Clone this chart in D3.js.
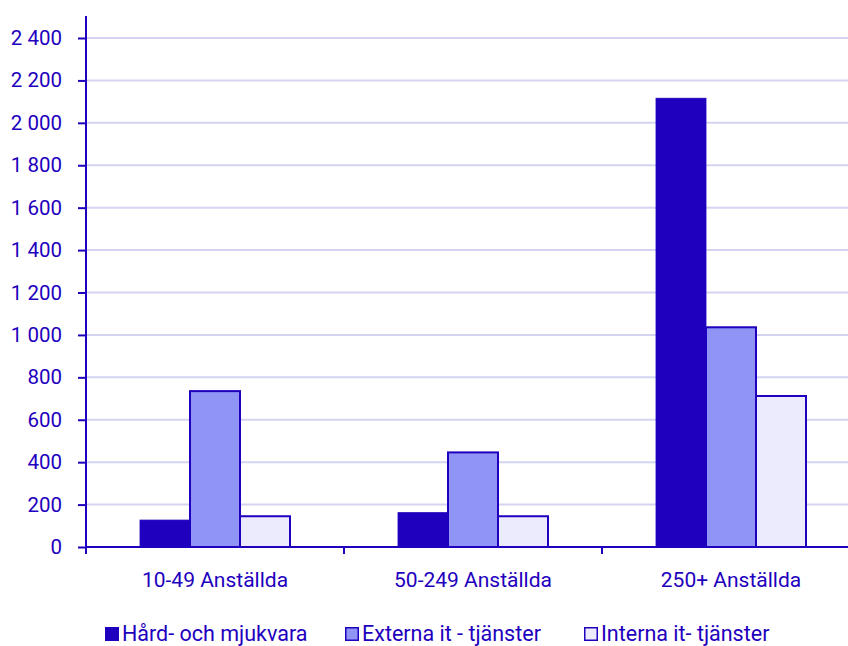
<!DOCTYPE html>
<html>
<head>
<meta charset="utf-8">
<script src="https://cdn.jsdelivr.net/npm/d3@7"></script>
<style>
  html, body { margin: 0; padding: 0; background: #fff; }
  svg { display: block; font-family: Roboto, "Noto Sans", sans-serif; }
</style>
</head>
<body>
<svg id="chart" width="848" height="646"></svg>
<script>
// Companies by size class, IT spending by type
const categories = ["10-49 Anställda", "50-249 Anställda", "250+ Anställda"];
const seriesNames = ["Hård- och mjukvara", "Externa it - tjänster", "Interna it- tjänster"];
const hardSoft = [127, 162, 2116];
const externa = [735, 446, 1036];
const interna = [145, 145, 712];
const yTicks = [0, 200, 400, 600, 800, 1000, 1200, 1400, 1600, 1800, 2000, 2200, 2400];

const seriesValues = [hardSoft, externa, interna];
const colors = ["#1e00be", "#8f94f5", "#ebebfd"];
const ink = "#1e00be";

const svg = d3.select("#chart");
const plotLeft = 86, plotBottom = 547, plotTop = 38;
const bandW = 258;

const x = d3.scaleBand().domain(categories)
  .range([plotLeft, plotLeft + bandW * categories.length]).paddingInner(0).paddingOuter(0);
const xs = d3.scaleBand().domain(seriesNames).range([0, x.bandwidth()])
  .paddingInner(0).paddingOuter(1.08);
const y = d3.scaleLinear().domain([0, 2400]).range([plotBottom, plotTop]);

const fmt = v => d3.format(",")(v).replace(/,/g, " ");

// gridlines
svg.append("g").selectAll("line").data(yTicks.filter(d => d > 0)).join("line")
  .attr("x1", plotLeft).attr("x2", 848)
  .attr("y1", d => y(d)).attr("y2", d => y(d))
  .attr("stroke", "#d4d4f2").attr("stroke-width", 2);

// bars
const groups = svg.append("g").selectAll("g").data(categories).join("g")
  .attr("transform", d => `translate(${x(d)},0)`);
groups.selectAll("rect").data((c, i) => seriesNames.map((s, j) => ({ s, j, v: seriesValues[j][i] }))).join("rect")
  .attr("x", d => xs(d.s))
  .attr("width", xs.bandwidth())
  .attr("y", d => y(d.v))
  .attr("height", d => plotBottom - y(d.v))
  .attr("fill", d => colors[d.j])
  .attr("stroke", ink).attr("stroke-width", d => d.j === 0 ? 0.8 : 2);

// y axis
const yAxis = d3.axisLeft(y).tickValues(yTicks).tickFormat(fmt).tickSize(8).tickPadding(16);
const gy = svg.append("g").attr("transform", `translate(${plotLeft},0)`).call(yAxis);
gy.select(".domain").remove();
gy.selectAll(".tick line").attr("stroke", ink).attr("stroke-width", 2);
gy.selectAll(".tick text").attr("fill", ink).style("font-size", "20.5px").style("font-family", "Roboto");
svg.append("line").attr("x1", plotLeft).attr("x2", plotLeft).attr("y1", 16).attr("y2", plotBottom + 1)
  .attr("stroke", ink).attr("stroke-width", 2);

// x axis
const xAxis = d3.axisBottom(x).tickSize(0).tickPadding(25);
const gx = svg.append("g").attr("transform", `translate(0,${plotBottom})`).call(xAxis);
gx.select(".domain").remove();
gx.selectAll(".tick text").attr("fill", ink).style("font-size", "21px").style("font-family", "Roboto");
svg.append("line").attr("x1", plotLeft).attr("x2", 848).attr("y1", plotBottom).attr("y2", plotBottom)
  .attr("stroke", ink).attr("stroke-width", 2);
svg.append("g").selectAll("line").data(categories).join("line")
  .attr("x1", d => x(d)).attr("x2", d => x(d))
  .attr("y1", plotBottom).attr("y2", plotBottom + 7)
  .attr("stroke", ink).attr("stroke-width", 2);

// legend
const legendX = [105, 345, 584];
const lg = svg.append("g").selectAll("g").data(seriesNames).join("g")
  .attr("transform", (d, i) => `translate(${legendX[i]},0)`);
lg.append("rect").attr("x", 0.75).attr("y", 627.75).attr("width", 12.5).attr("height", 12.5)
  .attr("fill", (d, i) => colors[i]).attr("stroke", ink).attr("stroke-width", 1.5);
lg.append("text").attr("x", 17).attr("y", 641).text(d => d)
  .attr("fill", ink).style("font-size", "21.5px");
</script>
</body>
</html>
